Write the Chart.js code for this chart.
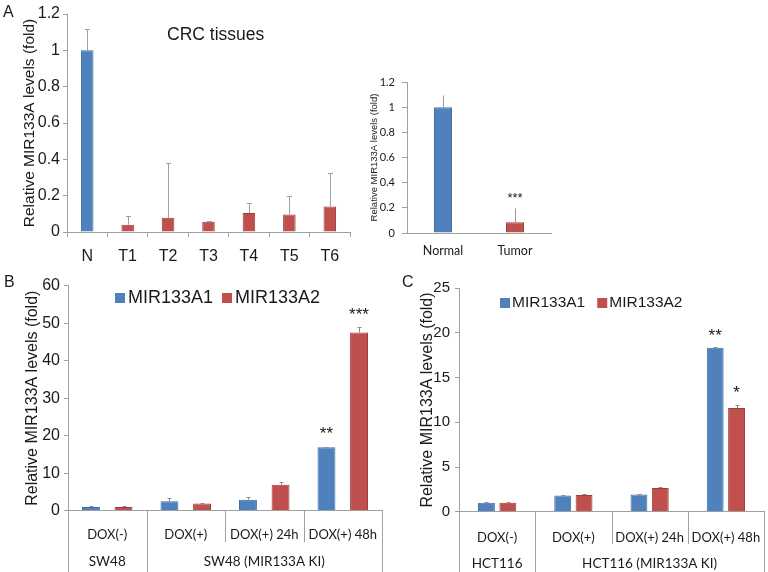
<!DOCTYPE html>
<html><head><meta charset="utf-8">
<script src="https://cdn.jsdelivr.net/npm/chart.js@4.4.1/dist/chart.umd.min.js"></script>
<style>
html,body{margin:0;padding:0;background:#fff;}
#wrap{position:relative;width:768px;height:572px;overflow:hidden;background:#fff;}
canvas{position:absolute;}
.lbl{position:absolute;font-family:'Liberation Sans',Arial,sans-serif;color:#1a1a1a;white-space:nowrap;line-height:1;}
</style></head><body>
<div id="wrap">
<canvas id="cA" width="360" height="270" style="left:0;top:0"></canvas>
<canvas id="cI" width="408" height="270" style="left:360px;top:0"></canvas>
<canvas id="cB" width="400" height="302" style="left:0;top:270px"></canvas>
<canvas id="cC" width="368" height="302" style="left:400px;top:270px"></canvas>
<div class="lbl" style="left:3px;top:4px;font-size:16px">A</div>
<div class="lbl" style="left:4px;top:274px;font-size:16px">B</div>
<div class="lbl" style="left:402px;top:274px;font-size:16px">C</div>
<div class="lbl" style="left:167px;top:26px;font-size:17.5px">CRC tissues</div>
</div>
<script>
// ---------- data ----------
const crcCategories = ['N', 'T1', 'T2', 'T3', 'T4', 'T5', 'T6'];
const crcValues = [1.0, 0.04, 0.078, 0.057, 0.105, 0.097, 0.14];
const crcErrors = [0.12, 0.048, 0.30, 0.004, 0.055, 0.10, 0.185];

const pooledCategories = ['Normal', 'Tumor'];
const pooledValues = [1.0, 0.085];
const pooledErrors = [0.10, 0.11];
const pooledSig = ['', '***'];

const treatments = ['DOX(-)', 'DOX(+)', 'DOX(+) 24h', 'DOX(+) 48h'];
const seriesNames = ['MIR133A1', 'MIR133A2'];
const groupSpans = [1, 3];

const sw48Groups = ['SW48', 'SW48 (MIR133A KI)'];
const sw48A1 = [1.0, 2.5, 2.9, 16.9];
const sw48A1Err = [0.25, 0.8, 0.8, 0.15];
const sw48A1Sig = ['', '', '', '**'];
const sw48A2 = [1.0, 1.9, 6.9, 47.5];
const sw48A2Err = [0.25, 0.2, 0.7, 1.4];
const sw48A2Sig = ['', '', '', '***'];

const hctGroups = ['HCT116', 'HCT116 (MIR133A KI)'];
const hctA1 = [1.0, 1.8, 1.93, 18.35];
const hctA1Err = [0.12, 0.05, 0.1, 0.08];
const hctA1Sig = ['', '', '', '**'];
const hctA2 = [1.0, 1.88, 2.65, 11.6];
const hctA2Err = [0.12, 0.15, 0.13, 0.38];
const hctA2Sig = ['', '', '', '*'];

// ---------- styles ----------
const BLUE = '#4F81BD', BLUE_B = '#3F6FA8';
const RED = '#C0504D', RED_B = '#9E3E3B';
const AXIS = '#A0A0A0';
const SANS = "'Liberation Sans', Arial, sans-serif";
const CAL = "Lato, 'Liberation Sans', sans-serif";

function makeDeco(cfg) {
  return {
    id: 'deco',
    afterDatasetsDraw(chart) {
      const ctx = chart.ctx, ys = chart.scales.y;
      ctx.save();
      (cfg.errors || []).forEach((errs, di) => {
        const meta = chart.getDatasetMeta(di);
        const vals = chart.data.datasets[di].data;
        meta.data.forEach((el, j) => {
          const top = ys.getPixelForValue(vals[j] + errs[j]);
          const x = Math.round(el.x) + 0.5, ty = Math.round(top) + 0.5;
          ctx.strokeStyle = cfg.errColor; ctx.lineWidth = 1;
          ctx.beginPath();
          ctx.moveTo(x, el.y); ctx.lineTo(x, ty);
          ctx.moveTo(x - cfg.cap, ty); ctx.lineTo(x + cfg.cap, ty);
          ctx.stroke();
          const s = cfg.sig && cfg.sig[di] && cfg.sig[di][j];
          if (s) {
            ctx.fillStyle = '#1a1a1a'; ctx.font = cfg.sigFont;
            ctx.textAlign = 'center'; ctx.textBaseline = 'middle';
            ctx.fillText(s, el.x, top - cfg.sigGap);
          }
        });
      });
      ctx.restore();
    },
    afterDraw(chart) {
      const ctx = chart.ctx;
      ctx.save();
      if (cfg.groups) {
        const xs = chart.scales.x, n = chart.data.labels.length;
        const step = (xs.right - xs.left) / n;
        const axisY = chart.chartArea.bottom;
        const gb = [0]; cfg.spans.forEach(s => gb.push(gb[gb.length - 1] + s));
        ctx.strokeStyle = cfg.sepColor; ctx.lineWidth = 1;
        for (let k = 0; k <= n; k++) {
          const x = Math.round(xs.left + k * step) + 0.5;
          const end = gb.includes(k) ? chart.height : cfg.shortEnd;
          ctx.beginPath(); ctx.moveTo(x, axisY); ctx.lineTo(x, end); ctx.stroke();
        }
        ctx.fillStyle = '#1a1a1a'; ctx.font = cfg.groupFont;
        ctx.textAlign = 'center'; ctx.textBaseline = 'middle';
        cfg.groups.forEach((g, i) => {
          const cx = xs.left + step * (gb[i] + gb[i + 1]) / 2;
          ctx.fillText(g, cx, cfg.groupY);
        });
      }
      if (cfg.legend) {
        const L = cfg.legend;
        let x = L.x;
        ctx.font = L.font; ctx.textBaseline = 'middle'; ctx.textAlign = 'left';
        chart.data.datasets.forEach(ds => {
          ctx.fillStyle = ds.backgroundColor;
          ctx.fillRect(x, L.y - L.size / 2, L.size, L.size);
          x += L.size + L.textGap;
          ctx.fillStyle = '#1a1a1a';
          ctx.fillText(ds.label, x, L.y);
          x += ctx.measureText(ds.label).width + L.itemGap;
        });
      }
      ctx.restore();
    }
  };
}

function yScale(opts) {
  return {
    min: opts.min, max: opts.max,
    ticks: { stepSize: opts.step, color: '#1a1a1a', padding: opts.tpad,
             font: { family: opts.family || SANS, size: opts.tsize },
             callback: v => String(Math.round(v * 10) / 10) },
    grid: { display: true, drawOnChartArea: false, drawTicks: true, tickLength: opts.tlen, color: AXIS },
    border: { display: true, color: AXIS },
    title: { display: true, text: 'Relative MIR133A levels (fold)', color: '#1a1a1a',
             font: { family: SANS, size: opts.titleSize }, padding: { top: opts.titlePad, bottom: 0 } },
    afterFit: s => { s.width = opts.width; }
  };
}

// x axis whose labels are pushed down by an invisible tick length (keeps layout padding small)
function xScale(opts) {
  return {
    ticks: { color: '#1a1a1a', padding: 0, font: { family: opts.family, size: opts.size },
             maxRotation: 0, minRotation: 0, autoSkip: false },
    grid: { display: false, drawTicks: true, tickLength: opts.drop },
    border: { display: true, color: AXIS },
    afterFit: s => { s.height = opts.height; }
  };
}

Chart.defaults.animation = false;
Chart.defaults.responsive = false;
Chart.defaults.devicePixelRatio = 1;
Chart.defaults.plugins.legend.display = false;
Chart.defaults.plugins.tooltip.enabled = false;

// ---------- Panel A: CRC tissues ----------
new Chart(document.getElementById('cA'), {
  type: 'bar',
  data: { labels: crcCategories, datasets: [{
    label: 'CRC', data: crcValues,
    backgroundColor: crcCategories.map((c, i) => i === 0 ? BLUE : RED),
    borderColor: crcCategories.map((c, i) => i === 0 ? BLUE_B : RED_B),
    borderWidth: 1, barPercentage: 0.31, categoryPercentage: 1 }] },
  options: {
    layout: { padding: { left: 0, top: 14, right: 10, bottom: 0 } },
    scales: {
      x: { ticks: { color: '#1a1a1a', padding: 10, font: { family: SANS, size: 16 }, maxRotation: 0 },
           grid: { display: true, drawOnChartArea: false, drawTicks: true, tickLength: 5, color: AXIS, offset: true },
           border: { display: true, color: AXIS },
           afterFit: s => { s.height = 38; } },
      y: yScale({ min: 0, max: 1.2, step: 0.2, tsize: 16, tpad: 3, tlen: 4, titleSize: 15.5, titlePad: 20, width: 67 })
    }
  },
  plugins: [makeDeco({ errors: [crcErrors], errColor: '#A0A0A0', cap: 2.5 })]
});

// ---------- Panel A inset: Normal vs Tumor ----------
new Chart(document.getElementById('cI'), {
  type: 'bar',
  data: { labels: pooledCategories, datasets: [{
    label: 'Pooled', data: pooledValues,
    backgroundColor: [BLUE, RED], borderColor: [BLUE_B, RED_B],
    borderWidth: 1, barPercentage: 0.25, categoryPercentage: 1 }] },
  options: {
    layout: { padding: { left: 0, top: 82, right: 217, bottom: 0 } },
    scales: {
      x: xScale({ family: CAL, size: 12.5, drop: 10, height: 37 }),
      y: yScale({ min: 0, max: 1.2, step: 0.2, tsize: 11, tpad: 7, tlen: 5, titleSize: 9.5, titlePad: 9, width: 47, family: CAL })
    }
  },
  plugins: [makeDeco({ errors: [pooledErrors], sig: [pooledSig], errColor: '#999', cap: 0,
                       sigFont: "13px " + SANS, sigGap: 10 })]
});

function groupedChart(id, groups, a1, a1e, a1s, a2, a2e, a2s, o) {
  new Chart(document.getElementById(id), {
    type: 'bar',
    data: { labels: treatments, datasets: [
      { label: seriesNames[0], data: a1, backgroundColor: BLUE, borderColor: BLUE_B, borderWidth: 1,
        barPercentage: o.barPct, categoryPercentage: o.catPct },
      { label: seriesNames[1], data: a2, backgroundColor: RED, borderColor: RED_B, borderWidth: 1,
        barPercentage: o.barPct, categoryPercentage: o.catPct }] },
    options: {
      layout: { padding: o.pad },
      scales: {
        x: xScale({ family: CAL, size: 13, drop: o.drop, height: o.xh }),
        y: yScale({ min: 0, max: o.max, step: o.step, tsize: o.tsize, tpad: o.tpad, tlen: 4, titleSize: 16, titlePad: o.titlePad, width: o.yw })
      }
    },
    plugins: [makeDeco({ errors: [a1e, a2e], sig: [a1s, a2s], errColor: '#8C8C8C', cap: 2,
                         sigFont: "17px " + SANS, sigGap: o.sigGap,
                         groups: groups, spans: groupSpans, sepColor: AXIS, shortEnd: o.shortEnd,
                         groupFont: "13.5px " + CAL, groupY: o.groupY, legend: o.legend })]
  });
}

// ---------- Panel B: SW48 ----------
groupedChart('cB', sw48Groups, sw48A1, sw48A1Err, sw48A1Sig, sw48A2, sw48A2Err, sw48A2Sig, {
  barPct: 0.55, catPct: 0.83, pad: { left: 0, top: 15.7, right: 18, bottom: 0 }, drop: 16, xh: 61.3,
  max: 60, step: 10, tsize: 16, tpad: 4, titlePad: 23.4, yw: 68, sigGap: 12,
  shortEnd: 272, groupY: 292,
  legend: { x: 115, y: 28, size: 10, textGap: 3, itemGap: 9, font: "18px " + SANS }
});

// ---------- Panel C: HCT116 ----------
groupedChart('cC', hctGroups, hctA1, hctA1Err, hctA1Sig, hctA2, hctA2Err, hctA2Sig, {
  barPct: 0.79, catPct: 0.56, pad: { left: 0, top: 18.3, right: 4, bottom: 0 }, drop: 18, xh: 60.3,
  max: 25, step: 5, tsize: 15, tpad: 5, titlePad: 18.4, yw: 59, sigGap: 11,
  shortEnd: 274, groupY: 294,
  legend: { x: 100, y: 33, size: 10, textGap: 2, itemGap: 12, font: "15.5px " + SANS }
});
</script>
</body></html>
